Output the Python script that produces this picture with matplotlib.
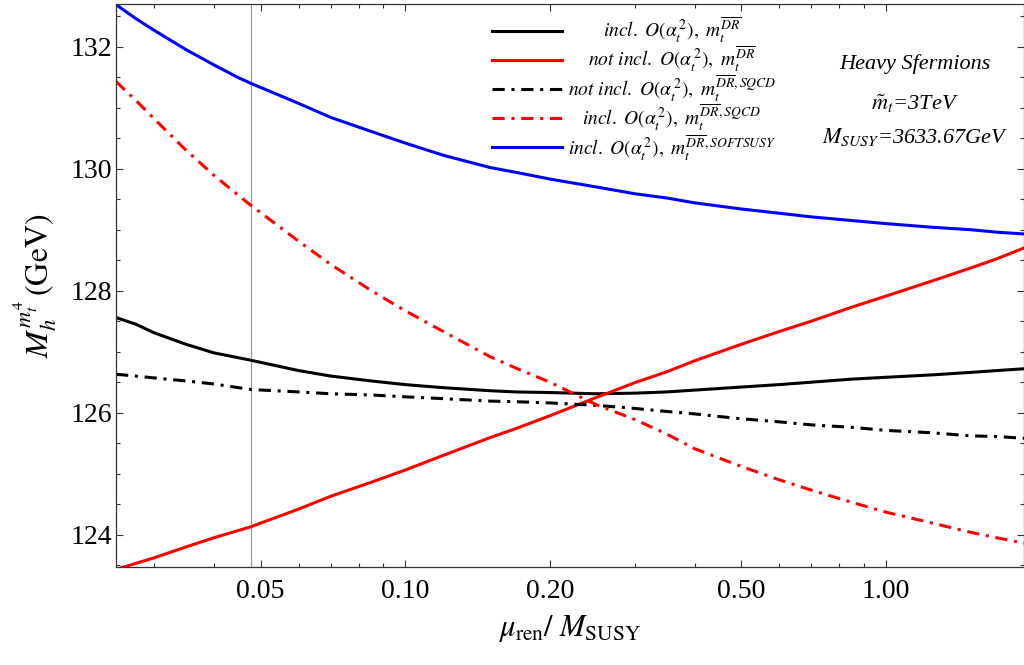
import numpy as np
import matplotlib
matplotlib.use("Agg")
import matplotlib.pyplot as plt
from matplotlib.ticker import FixedLocator, FixedFormatter, NullFormatter

plt.rcParams['font.family'] = ['Liberation Serif', 'DejaVu Serif']
plt.rcParams['mathtext.fontset'] = 'stix'

# mu_ren / M_SUSY
mu_ratio = [0.025, 0.0275, 0.03, 0.035, 0.04, 0.045, 0.0477, 0.06, 0.07, 0.085,
            0.1, 0.12, 0.15, 0.17, 0.2, 0.25, 0.3, 0.35, 0.4, 0.5,
            0.6, 0.7, 0.85, 1.0, 1.25, 1.5, 1.7, 1.94]

incl_dr = [127.56, 127.45, 127.31, 127.12, 126.98, 126.90, 126.86, 126.69, 126.60, 126.52,
           126.46, 126.41, 126.36, 126.34, 126.33, 126.31, 126.32, 126.34, 126.37, 126.42,
           126.46, 126.50, 126.55, 126.58, 126.62, 126.66, 126.69, 126.72]
notincl_dr = [123.43, 123.53, 123.62, 123.80, 123.95, 124.07, 124.13, 124.42, 124.63, 124.86,
              125.06, 125.30, 125.59, 125.74, 125.95, 126.25, 126.49, 126.67, 126.85, 127.12,
              127.33, 127.50, 127.73, 127.91, 128.16, 128.37, 128.52, 128.70]
notincl_sqcd = [126.63, 126.60, 126.57, 126.52, 126.47, 126.41, 126.38, 126.34, 126.31, 126.29,
                126.26, 126.23, 126.19, 126.18, 126.16, 126.12, 126.07, 126.02, 125.98, 125.90,
                125.85, 125.80, 125.76, 125.71, 125.67, 125.62, 125.61, 125.58]
incl_sqcd = [131.43, 131.12, 130.82, 130.30, 129.89, 129.56, 129.40, 128.81, 128.43, 128.00,
             127.67, 127.33, 126.92, 126.73, 126.50, 126.13, 125.89, 125.65, 125.41, 125.12,
             124.90, 124.73, 124.53, 124.37, 124.19, 124.04, 123.95, 123.86]
incl_softsusy = [132.69, 132.46, 132.27, 131.95, 131.70, 131.49, 131.40, 131.07, 130.84, 130.61,
                 130.42, 130.22, 130.02, 129.94, 129.83, 129.70, 129.59, 129.52, 129.44, 129.34,
                 129.27, 129.21, 129.15, 129.10, 129.04, 129.00, 128.96, 128.93]

labels = [r"$incl.\ O(\alpha_t^{\,2}),\ m_t^{\overline{DR}}$",
          r"$not\ incl.\ O(\alpha_t^{\,2}),\ m_t^{\overline{DR}}$",
          r"$not\ incl.\ O(\alpha_t^{\,2}),\ m_t^{\overline{DR},SQCD}$",
          r"$incl.\ O(\alpha_t^{\,2}),\ m_t^{\overline{DR},SQCD}$",
          r"$incl.\ O(\alpha_t^{\,2}),\ m_t^{\overline{DR},SOFTSUSY}$"]

mt = 173.2
msusy = 3633.67

x_major = [0.05, 0.1, 0.2, 0.5, 1.0]
x_major_lab = ["0.05", "0.10", "0.20", "0.50", "1.00"]
x_minor = [0.03, 0.04, 0.06, 0.07, 0.08, 0.09, 0.3, 0.4, 0.6, 0.7, 0.8, 0.9]

fig = plt.figure(figsize=(10.24, 6.65), dpi=100)
ax = fig.add_axes([116 / 1024, 1 - 567 / 665, 908 / 1024, 563 / 665])

dd = (4, 2.2, 1, 2.2)
ax.axvline(mt / msusy, color='#999999', lw=0.9, zorder=1)
l1, = ax.plot(mu_ratio, incl_dr, color='black', lw=2.2)
l2, = ax.plot(mu_ratio, notincl_dr, color='#ff0000', lw=2.2)
l3, = ax.plot(mu_ratio, notincl_sqcd, color='black', lw=2.2, dashes=dd)
l4, = ax.plot(mu_ratio, incl_sqcd, color='#ff0000', lw=2.2, dashes=dd)
l5, = ax.plot(mu_ratio, incl_softsusy, color='#0000ff', lw=2.2)
for ln in (l1, l2, l3, l4, l5):
    ln.set_solid_joinstyle('round')

ax.set_xscale('log')
ax.set_xlim(0.025, 1.94)
ax.set_ylim(123.47, 132.70)

ax.xaxis.set_major_locator(FixedLocator(x_major))
ax.xaxis.set_major_formatter(FixedFormatter(x_major_lab))
ax.xaxis.set_minor_locator(FixedLocator(x_minor))
ax.xaxis.set_minor_formatter(NullFormatter())
ax.set_yticks(np.arange(124, 133, 2))
ax.set_yticks(np.arange(123.5, 132.75, 0.5), minor=True)

ax.tick_params(which='both', direction='in', top=True, right=True, width=0.8, color='#333333')
ax.tick_params(which='major', length=5, labelsize=20)
ax.tick_params(which='minor', length=2.8)
ax.tick_params(axis='x', which='major', pad=9)
ax.tick_params(axis='y', which='major', pad=3)
for s in ax.spines.values():
    s.set_color('#333333')
    s.set_linewidth(0.9)

ax.set_xlabel(r"$\mu_{\mathrm{ren}}/\ M_{\mathrm{SUSY}}$", fontsize=22, labelpad=6)
ax.set_ylabel(r"$M_h^{m_t^{4}}\,(\mathrm{GeV})$", fontsize=23, labelpad=8)

# legend: handles from the library, labels centred as in the original
leg = ax.legend([l1, l2, l3, l4, l5], [""] * 5, loc='upper left',
                bbox_to_anchor=(0.414, 0.964), frameon=False, fontsize=14,
                handlelength=3.6, handletextpad=0, borderpad=0, borderaxespad=0,
                labelspacing=0.58)
label_y = [0.9409, 0.8885, 0.8362, 0.7838, 0.7314]
for lab, yy in zip(labels, label_y):
    ax.text(0.612, yy, lab, transform=ax.transAxes, ha='center', va='baseline', fontsize=14)

ax.text(0.880, 0.884, "Heavy Sfermions", transform=ax.transAxes, ha='center',
        va='baseline', fontsize=16, style='italic')
ax.text(0.880, 0.8117, r"$\tilde{m}_t$=3TeV", transform=ax.transAxes, ha='center',
        va='baseline', fontsize=16, style='italic')
ax.text(0.880, 0.7526, r"$M_{SUSY}$=3633.67GeV", transform=ax.transAxes, ha='center',
        va='baseline', fontsize=16, style='italic')

fig.savefig("out.png", dpi=100)
